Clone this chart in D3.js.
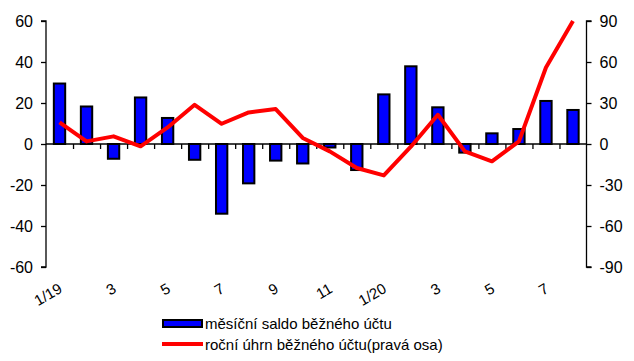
<!DOCTYPE html>
<html><head><meta charset="utf-8">
<script src="https://cdn.jsdelivr.net/npm/d3@7"></script>
<style>body{margin:0;background:#fff}svg{display:block}text{font-family:"Liberation Sans",Arial,sans-serif}</style>
</head><body>
<svg id="c" width="634" height="361"></svg>
<script>
const months = ["1/19","2","3","4","5","6","7","8","9","10","11","12","1/20","2","3","4","5","6","7","8"];
const tickLabels = ["1/19","","3","","5","","7","","9","","11","","1/20","","3","","5","","7",""];
const monthly = [29.5,18.3,-7.2,22.7,12.7,-7.7,-34,-19.2,-8.1,-9.5,-1.7,-12.7,24.2,37.9,17.9,-4.2,5.2,7.3,21,16.6];
const annual = [15.8,1.9,5.6,-1.7,12.1,28.7,14.8,23.1,25.6,4.4,-5.4,-17.6,-23,-2,21.4,-5.4,-12.7,1.9,56,90];
const leftTicks = [-60,-40,-20,0,20,40,60];
const rightTicks = [-90,-60,-30,0,30,60,90];
const legendLabels = ["měsíční saldo běžného účtu","roční úhrn běžného účtu(pravá osa)"];

const svg = d3.select("#c");
const L = 46, R = 586.5, T = 21, B = 267;
const idx = d3.range(months.length);
const x = d3.scaleBand().domain(idx).range([L, R]).paddingInner(0.58).paddingOuter(0.29);
const xb = d3.scaleLinear().domain([0, months.length]).range([L, R]);
const yL = d3.scaleLinear().domain([-60, 60]).range([B, T]);
const yR = d3.scaleLinear().domain([-90, 90]).range([B, T]);

// bars
svg.append("g").selectAll("rect").data(monthly).join("rect")
  .attr("x", (d,i) => x(i)).attr("width", x.bandwidth())
  .attr("y", d => yL(Math.max(0,d))).attr("height", d => Math.abs(yL(d)-yL(0)))
  .attr("fill", "#0000ff").attr("stroke", "#000").attr("stroke-width", 2);

// left axis
const la = svg.append("g").attr("transform", `translate(${L},0)`)
  .call(d3.axisLeft(yL).tickValues(leftTicks).tickSize(5).tickPadding(8).tickFormat(d => String(d)));
// right axis
const ra = svg.append("g").attr("transform", `translate(${R},0)`)
  .call(d3.axisRight(yR).tickValues(rightTicks).tickSize(5).tickPadding(8).tickFormat(d => String(d)));
[la, ra].forEach(g => {
  g.select(".domain").attr("d", g === la ? `M-5,${T}H0V${B}H-5` : `M5,${T}H0V${B}H5`).attr("stroke","#000").attr("stroke-width",1.3);
  g.selectAll(".tick line").attr("stroke","#000").attr("stroke-width",1.3);
  g.selectAll("text").attr("font-size", 16).attr("fill","#000").attr("font-family","Liberation Sans, Arial, sans-serif");
});

// zero axis with category boundary ticks
const xa = svg.append("g").attr("transform", `translate(0,${yL(0)})`)
  .call(d3.axisBottom(xb).tickValues(d3.range(1, months.length)).tickSize(5).tickFormat(""));
xa.select(".domain").attr("d", `M${L},0H${R}`).attr("stroke","#000").attr("stroke-width",1.3);
xa.selectAll(".tick line").attr("stroke","#000").attr("stroke-width",1.3);

// category labels
svg.append("g").selectAll("text").data(tickLabels).join("text")
  .attr("transform", (d,i) => `translate(${x(i)+x.bandwidth()/2-3},${280}) rotate(-30)`)
  .attr("text-anchor","end").attr("dy","0.9em")
  .attr("font-size", 15).attr("fill","#000").text(d => d);

// line
const line = d3.line().x((d,i) => x(i)+x.bandwidth()/2).y(d => yR(d));
svg.append("path").datum(annual).attr("d", line)
  .attr("fill","none").attr("stroke","#ff0000").attr("stroke-width",4).attr("stroke-linejoin","round");

// legend
const lg = svg.append("g");
lg.append("rect").attr("x",163).attr("y",320).attr("width",39).attr("height",7)
  .attr("fill","#0000ff").attr("stroke","#000").attr("stroke-width",2);
lg.append("line").attr("x1",162).attr("x2",203).attr("y1",344).attr("y2",344)
  .attr("stroke","#ff0000").attr("stroke-width",4);
lg.selectAll("text").data(legendLabels).join("text")
  .attr("x",205).attr("y",(d,i) => 329 + i*21)
  .attr("font-size",15).attr("fill","#000").text(d => d);
</script>
</body></html>
